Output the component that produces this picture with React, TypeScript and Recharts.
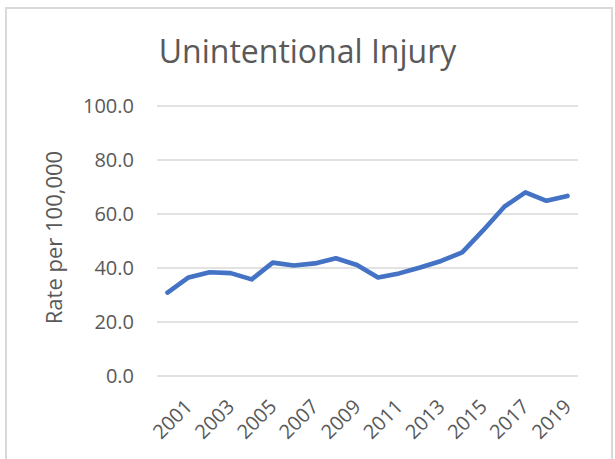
import React from "react";
import { LineChart, Line, XAxis, YAxis, CartesianGrid } from "recharts";

const years = [
  "2000", "2001", "2002", "2003", "2004", "2005", "2006", "2007", "2008", "2009",
  "2010", "2011", "2012", "2013", "2014", "2015", "2016", "2017", "2018", "2019",
];
const rates = [
  30.9, 36.5, 38.4, 38.1, 35.8, 42.0, 40.9, 41.7, 43.6, 41.1,
  36.5, 38.0, 40.2, 42.6, 45.8, 54.0, 62.7, 68.0, 64.9, 66.7,
];
const labeledYears = ["2001", "2003", "2005", "2007", "2009", "2011", "2013", "2015", "2017", "2019"];
const yTicks = [0, 20, 40, 60, 80, 100];

const data = years.map((year, i) => ({ year, rate: rates[i] }));

const FONT = "'Open Sans', sans-serif";
const TEXT = "#595959";

function XTick(props: any) {
  const { x, y, payload } = props;
  if (!labeledYears.includes(payload.value)) return null;
  const ax = x + 5;
  const ay = y + 32;
  return (
    <text
      x={ax}
      y={ay}
      transform={`rotate(-45, ${ax}, ${ay})`}
      textAnchor="end"
      fill={TEXT}
      fontSize={20}
      fontFamily={FONT}
    >
      {payload.value}
    </text>
  );
}

function YTick(props: any) {
  const { x, y, payload } = props;
  return (
    <text x={x - 23} y={y} dy="0.357em" textAnchor="end" fill={TEXT} fontSize={20} fontFamily={FONT}>
      {Number(payload.value).toFixed(1)}
    </text>
  );
}

export default function App() {
  return (
    <div style={{ position: "absolute", left: 0, top: 0, width: 615, height: 459, overflow: "hidden", background: "#fff" }}>
      <div
        style={{
          position: "absolute",
          left: 5,
          top: 7,
          width: 604,
          height: 480,
          border: "2px solid #d9d9d9",
        }}
      />
      <svg width={615} height={80} style={{ position: "absolute", left: 0, top: 0 }}>
        <text x={307.5} y={63} textAnchor="middle" fill={TEXT} fontSize={32} fontFamily={FONT}>
          Unintentional Injury
        </text>
      </svg>
      <div style={{ position: "absolute", left: 0, top: 0 }}>
        <LineChart width={615} height={459} data={data} margin={{ top: 106, right: 37, bottom: 0, left: 0 }}>
          <CartesianGrid vertical={false} stroke="#d9d9d9" strokeWidth={1.3} />
          <XAxis
            dataKey="year"
            height={83}
            interval={0}
            tickLine={false}
            axisLine={false}
            tickSize={0}
            tickMargin={0}
            padding={{ left: 10.5, right: 10.5 }}
            tick={<XTick />}
          />
          <YAxis
            width={157}
            domain={[0, 100]}
            ticks={yTicks}
            tickLine={false}
            axisLine={false}
            tickSize={0}
            tickMargin={0}
            tick={<YTick />}
            label={{
              content: () => (
                <text
                  x={62}
                  y={237.5}
                  transform="rotate(-90, 62, 237.5)"
                  textAnchor="middle"
                  fill={TEXT}
                  fontSize={22}
                  fontFamily={FONT}
                >
                  Rate per 100,000
                </text>
              ),
            }}
          />
          <Line
            type="linear"
            dataKey="rate"
            stroke="#4472C4"
            strokeWidth={4.6}
            strokeLinejoin="round"
            strokeLinecap="round"
            dot={false}
            isAnimationActive={false}
          />
        </LineChart>
      </div>
    </div>
  );
}
